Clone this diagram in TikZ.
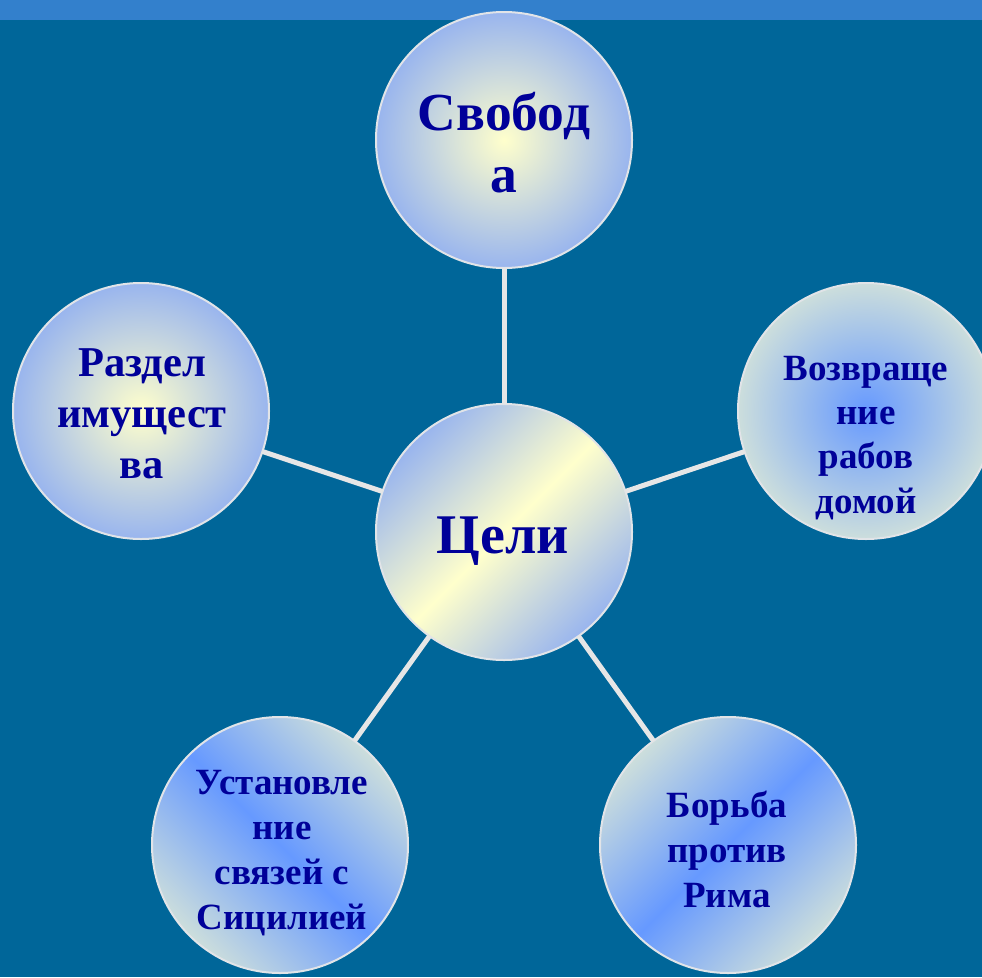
\documentclass[tikz,border=0pt]{standalone}
\usepackage{fontspec}
\setmainfont{Liberation Serif}
\usetikzlibrary{shadings}
\definecolor{bgblue}{RGB}{0,102,153}
\definecolor{bandblue}{RGB}{51,128,204}
\definecolor{softblue}{RGB}{153,181,238}
\definecolor{paleyellow}{RGB}{255,255,204}
\definecolor{brightblue}{RGB}{102,153,255}
\definecolor{greygreen}{RGB}{204,222,220}
\definecolor{linegrey}{RGB}{230,230,230}
\definecolor{rimgrey}{RGB}{225,228,232}
\definecolor{txtblue}{RGB}{0,0,153}
\tikzset{
  bubble/.style={circle, minimum size=256pt, inner sep=0pt, outer sep=0pt, draw=rimgrey, line width=2pt},
  glowyellow/.style={bubble, inner color=paleyellow, outer color=softblue},
  glowblue/.style={bubble, inner color=brightblue, outer color=greygreen},
  stripeyellow/.style={bubble, top color=softblue, bottom color=softblue, middle color=paleyellow, shading angle=45},
  stripeblueA/.style={bubble, top color=greygreen, bottom color=greygreen, middle color=brightblue, shading angle=45},
  stripeblueB/.style={bubble, top color=greygreen, bottom color=greygreen, middle color=brightblue, shading angle=-45},
  spoke/.style={draw=linegrey, line width=5pt},
  lbl/.style={text=txtblue, align=center, anchor=base, inner sep=0pt, font=\bfseries}
}
\begin{document}
\begin{tikzpicture}[x=1pt,y=1pt]
\clip (0,0) rectangle (982,-977);
\fill[bgblue] (0,0) rectangle (982,-977);
\fill[bandblue] (0,0) rectangle (982,-20);

\node[stripeyellow] (goal) at (504,-532) {};
\node[glowyellow] (free) at (504,-140) {};
\node[glowyellow] (split) at (141,-411) {};
\node[glowblue] (home) at (866,-411) {};
\node[stripeblueB] (sicily) at (280,-845) {};
\node[stripeblueA] (rome) at (728,-845) {};

\draw[spoke] (goal) -- (free);
\draw[spoke] (goal) -- (split);
\draw[spoke] (goal) -- (home);
\draw[spoke] (goal) -- (sicily);
\draw[spoke] (goal) -- (rome);

\node[lbl, font=\bfseries\fontsize{56}{62}\selectfont] (tgoal) at (503,-553) {Цели};
\node[lbl, font=\bfseries\fontsize{53.5}{62}\selectfont] (tfree) at (504,-192) {Свобод\\а};
\node[lbl, font=\bfseries\fontsize{42.5}{51}\selectfont] (tsplit) at (142,-478) {Раздел\\имущест\\ва};
\node[lbl, font=\bfseries\fontsize{37}{44.3}\selectfont] (thome) at (866,-513) {Возвраще\\ние\\рабов\\домой};
\node[lbl, font=\bfseries\fontsize{37}{45}\selectfont] (trome) at (727,-907) {Борьба\\против\\Рима};
\node[lbl, font=\bfseries\fontsize{37}{44.7}\selectfont] (tsicily) at (282,-929) {Установле\\ние\\связей с\\Сицилией};
\end{tikzpicture}
\end{document}
